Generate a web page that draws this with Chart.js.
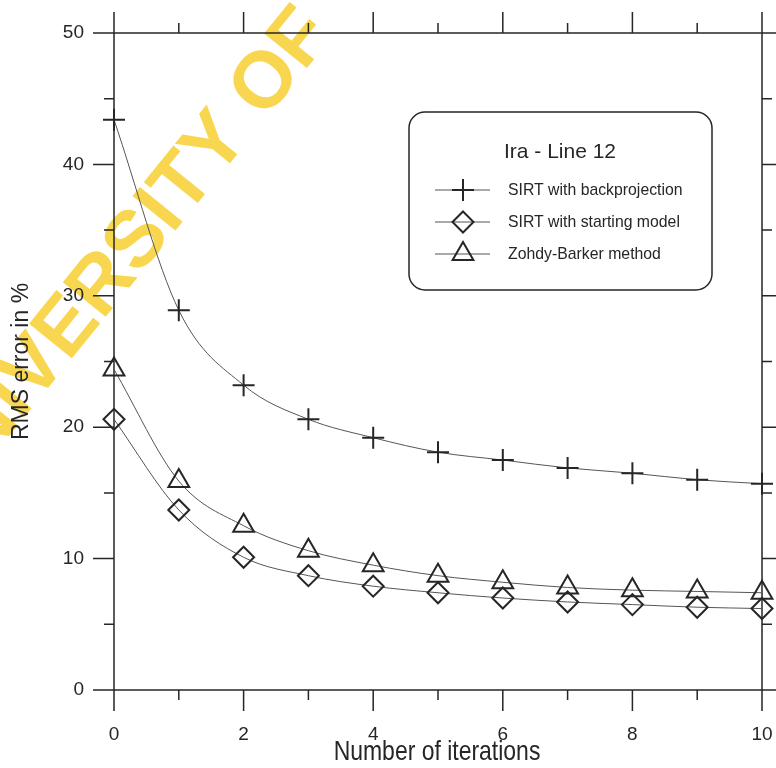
<!DOCTYPE html>
<html>
<head>
<meta charset="utf-8">
<title>Ira - Line 12</title>
<script src="https://cdn.jsdelivr.net/npm/chart.js@4.4.1/dist/chart.umd.min.js"></script>
<style>
  html, body { margin: 0; padding: 0; background: #fff; }
  #wrap { width: 776px; height: 768px; }
</style>
</head>
<body>
<div id="wrap"><canvas id="rms"></canvas></div>
<script>
// ─── Values ───────────────────────────────────────────────────────
const iterations = [0, 1, 2, 3, 4, 5, 6, 7, 8, 9, 10];
const sirtBackprojection = [43.4, 28.9, 23.2, 20.6, 19.2, 18.1, 17.5, 16.9, 16.5, 16.0, 15.7];
const sirtStartingModel = [20.6, 13.7, 10.1, 8.7, 7.9, 7.4, 7.0, 6.7, 6.5, 6.3, 6.2];
const zohdyBarker = [24.4, 15.9, 12.5, 10.6, 9.5, 8.7, 8.2, 7.8, 7.6, 7.5, 7.4];

const seriesLabels = ['SIRT with backprojection', 'SIRT with starting model', 'Zohdy-Barker method'];
const legendTitle = 'Ira - Line 12';
const xTitle = 'Number of iterations';
const yTitle = 'RMS error in %';
const watermark = ['UNI', 'VERSITY OF'];

// ─── Look ─────────────────────────────────────────────────────────
const INK = '#262626';
const CURVE = '#555555';
const SANS = "'Liberation Sans', Arial, sans-serif";

const toPoints = (ys) => iterations.map((x, i) => ({ x, y: ys[i] }));

const series = (label, ys, pointStyle, radius) => ({
    label,
    data: toPoints(ys),
    borderColor: CURVE,
    borderWidth: 1,
    pointStyle,
    pointRadius: radius,
    pointBorderWidth: 2,
    pointBorderColor: INK,
    pointBackgroundColor: 'rgba(0,0,0,0)',
    cubicInterpolationMode: 'monotone',
    clip: false,
});

// condensed text: no narrow face installed, so squeeze horizontally
function narrowText(ctx, text, x, y, squeeze) {
    ctx.save();
    ctx.translate(x, y);
    ctx.scale(squeeze, 1);
    ctx.fillText(text, 0, 0);
    ctx.restore();
}

// ─── Yellow scan watermark, behind everything ─────────────────────
const stamp = {
    id: 'stamp',
    beforeDraw(chart) {
        const { ctx } = chart;
        ctx.save();
        ctx.translate(35, 404);
        ctx.rotate(-51 * Math.PI / 180);
        ctx.font = "bold 80px " + SANS;
        ctx.fillStyle = 'rgba(248, 210, 60, 0.9)';
        ctx.textBaseline = 'alphabetic';
        ctx.textAlign = 'right';
        ctx.fillText(watermark[0], 0, 0);
        ctx.textAlign = 'left';
        ctx.fillText(watermark[1], 0, 0);
        ctx.restore();
    },
};

// ─── Box frame with outward ticks on all four sides ───────────────
const frame = {
    id: 'frame',
    beforeDatasetsDraw(chart) {
        const { ctx, chartArea: a, scales: { x, y } } = chart;
        ctx.save();
        ctx.strokeStyle = INK;
        ctx.lineWidth = 1.5;
        ctx.strokeRect(a.left, a.top, a.right - a.left, a.bottom - a.top);
        ctx.beginPath();
        for (let v = x.min; v <= x.max; v += 1) {
            const len = v % 2 ? 10 : 21;
            const px = x.getPixelForValue(v);
            ctx.moveTo(px, a.bottom); ctx.lineTo(px, a.bottom + len);
            ctx.moveTo(px, a.top); ctx.lineTo(px, a.top - len);
        }
        for (let v = y.min; v <= y.max; v += 5) {
            const len = v % 10 ? 10 : 21;
            const py = y.getPixelForValue(v);
            ctx.moveTo(a.left, py); ctx.lineTo(a.left - len, py);
            ctx.moveTo(a.right, py); ctx.lineTo(a.right + len, py);
        }
        ctx.stroke();

        // x axis title, condensed like the original
        ctx.fillStyle = INK;
        ctx.font = '28px ' + SANS;
        ctx.textAlign = 'center';
        ctx.textBaseline = 'middle';
        narrowText(ctx, xTitle, (a.left + a.right) / 2 - 1, 752, 0.82);
        ctx.restore();
    },
};

// ─── Rounded legend box with line + marker samples ────────────────
const legendBox = {
    id: 'legendBox',
    afterDraw(chart) {
        const { ctx } = chart;
        ctx.save();
        ctx.beginPath();
        ctx.roundRect(409, 112, 303, 178, 16);
        ctx.fillStyle = '#ffffff';
        ctx.fill();
        ctx.strokeStyle = INK;
        ctx.lineWidth = 1.5;
        ctx.stroke();

        ctx.fillStyle = INK;
        ctx.textBaseline = 'middle';
        ctx.textAlign = 'center';
        ctx.font = '21px ' + SANS;
        ctx.fillText(legendTitle, 560, 152);

        ctx.textAlign = 'left';
        ctx.font = '17px ' + SANS;
        chart.data.datasets.forEach((ds, i) => {
            const cy = 190 + i * 32;
            ctx.strokeStyle = CURVE;
            ctx.lineWidth = 1;
            ctx.beginPath();
            ctx.moveTo(435, cy);
            ctx.lineTo(490, cy);
            ctx.stroke();
            ctx.strokeStyle = INK;
            ctx.lineWidth = ds.pointBorderWidth;
            ctx.fillStyle = 'rgba(0,0,0,0)';
            Chart.helpers.drawPoint(ctx, {
                pointStyle: ds.pointStyle,
                radius: ds.pointRadius,
                borderWidth: ds.pointBorderWidth,
                rotation: 0,
            }, 463, cy);
            ctx.fillStyle = INK;
            narrowText(ctx, ds.label, 508, cy, 0.93);
        });
        ctx.restore();
    },
};

new Chart(document.getElementById('rms'), {
    type: 'line',
    data: {
        datasets: [
            series(seriesLabels[0], sirtBackprojection, 'cross', 11),
            series(seriesLabels[1], sirtStartingModel, 'rectRot', 10.5),
            series(seriesLabels[2], zohdyBarker, 'triangle', 12),
        ],
    },
    plugins: [stamp, frame, legendBox],
    options: {
        responsive: true,
        maintainAspectRatio: false,
        animation: false,
        events: [],
        layout: { padding: { top: 33, right: 14, left: 0, bottom: 0 } },
        plugins: { legend: { display: false }, tooltip: { enabled: false } },
        scales: {
            x: {
                type: 'linear',
                min: 0,
                max: 10,
                afterFit: (s) => { s.height = 78; s.paddingLeft = 0; s.paddingRight = 0; },
                grid: { display: false, drawTicks: false },
                border: { display: false },
                ticks: { stepSize: 2, padding: 33, color: INK, font: { family: SANS, size: 19 } },
            },
            y: {
                min: 0,
                max: 50,
                afterFit: (s) => { s.width = 114; s.paddingTop = 0; s.paddingBottom = 0; },
                grid: { display: false, drawTicks: false },
                border: { display: false },
                ticks: { stepSize: 10, padding: 30, color: INK, font: { family: SANS, size: 19 } },
                title: {
                    display: true,
                    text: yTitle,
                    color: INK,
                    padding: { top: 8, bottom: 0 },
                    font: { family: SANS, size: 23 },
                },
            },
        },
    },
});
</script>
</body>
</html>
